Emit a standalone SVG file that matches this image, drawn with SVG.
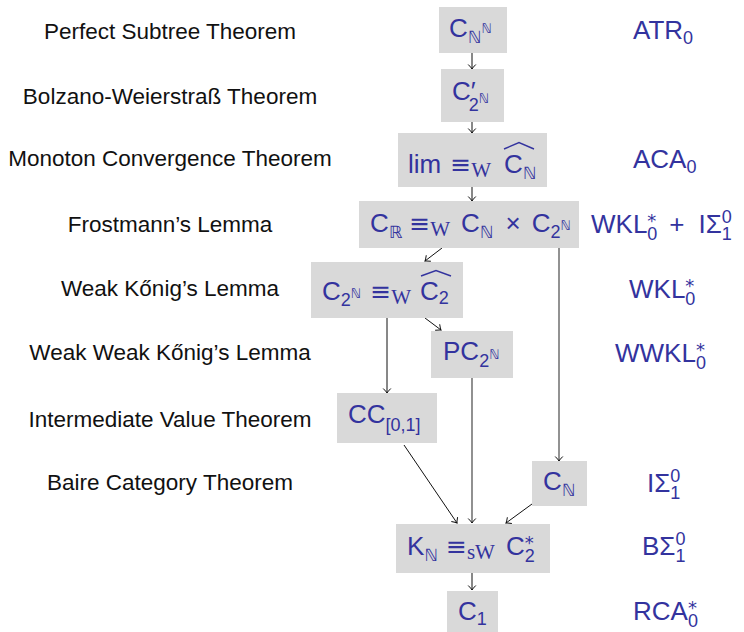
<svg xmlns="http://www.w3.org/2000/svg" width="744" height="632" viewBox="0 0 744 632">
<style>
.lbl{font-family:"Liberation Sans","DejaVu Sans",sans-serif;font-size:22.5px;fill:#111;text-anchor:middle}
.m{font-family:"Liberation Sans","DejaVu Sans",sans-serif;font-size:26px;fill:#33339E}
.bb{font-family:"DejaVu Sans",sans-serif;font-size:17px}
.bbs{font-family:"DejaVu Sans",sans-serif;font-size:13px}
.sub{font-size:18px}
.st{font-family:"DejaVu Sans",sans-serif;font-size:18px}
.ser{font-family:"Liberation Serif","DejaVu Serif",serif;font-size:21px}
.eq{font-family:"DejaVu Sans",sans-serif;font-size:25px}
.box{fill:#d9d9d9}
.c{stroke:#111;stroke-width:1;fill:none}
.g{stroke:#777;stroke-width:1.6;fill:none}
.g2{stroke:#555;stroke-width:1.3;fill:none}
.hat{stroke:#33339E;stroke-width:1.4;fill:none}
</style>
<defs>
<marker id="ah" viewBox="-6 -5 8 10" refX="0" refY="0" markerWidth="8" markerHeight="10" markerUnits="userSpaceOnUse" orient="auto">
<path d="M-4.5,-3.8 Q-1.5,-0.8 0,0 Q-1.5,0.8 -4.5,3.8" stroke="#111" stroke-width="1" fill="none"/>
</marker>
</defs>

<g id="labels">
<text class="lbl" x="170" y="39">Perfect Subtree Theorem</text>
<text class="lbl" x="170" y="104">Bolzano-Weierstraß Theorem</text>
<text class="lbl" x="170" y="166">Monoton Convergence Theorem</text>
<text class="lbl" x="170" y="232">Frostmann’s Lemma</text>
<text class="lbl" x="170" y="296">Weak Kőnig’s Lemma</text>
<text class="lbl" x="170" y="360">Weak Weak Kőnig’s Lemma</text>
<text class="lbl" x="170" y="427">Intermediate Value Theorem</text>
<text class="lbl" x="170" y="490">Baire Category Theorem</text>
</g>

<g id="connectors">
<line class="c" x1="472" y1="53" x2="472" y2="69" marker-end="url(#ah)"/>
<line class="c" x1="472" y1="122" x2="472" y2="133" marker-end="url(#ah)"/>
<line class="c" x1="472" y1="187" x2="472" y2="201" marker-end="url(#ah)"/>
<line class="c" x1="442" y1="248" x2="425" y2="261" marker-end="url(#ah)"/>
<line class="c" x1="425" y1="318" x2="441" y2="330" marker-end="url(#ah)"/>
<line class="c" x1="387" y1="318" x2="387" y2="393" marker-end="url(#ah)"/>
<line class="g" x1="559" y1="248" x2="559" y2="461" marker-end="url(#ah)"/>
<line class="g2" x1="472" y1="378" x2="472" y2="523" marker-end="url(#ah)"/>
<line class="c" x1="404" y1="445" x2="457" y2="523" marker-end="url(#ah)"/>
<line class="c" x1="532" y1="504" x2="506" y2="523" marker-end="url(#ah)"/>
<line class="c" x1="472" y1="573" x2="472" y2="590" marker-end="url(#ah)"/>
</g>

<g id="n1">
<rect class="box" x="439" y="7" width="68" height="46"/>
<text class="m" x="449" y="37">C<tspan class="bb" dy="6">ℕ</tspan><tspan class="bbs" dy="-10">ℕ</tspan></text>
</g>
<g id="n2">
<rect class="box" x="441" y="69" width="63" height="53"/>
<text class="m" x="452" y="100">C<tspan>′</tspan><tspan class="sub" dx="-7" dy="11">2</tspan><tspan class="bbs" dy="-8">ℕ</tspan></text>
</g>
<g id="n3">
<rect class="box" x="398" y="133" width="149" height="54"/>
<text class="m" x="408" y="173">lim<tspan class="eq" dx="9">≡</tspan><tspan class="ser" dy="4">W</tspan><tspan dx="13" dy="-4">C</tspan><tspan class="bb" dy="6">ℕ</tspan></text>
<path class="hat" d="M504,149 L519,142.5 L534,149"/>
</g>
<g id="n4">
<rect class="box" x="359" y="201" width="220" height="47"/>
<text class="m" x="370" y="232">C<tspan class="bb" dy="6">ℝ</tspan><tspan class="eq" dx="7" dy="-6">≡</tspan><tspan class="ser" dy="4">W</tspan><tspan dx="11" dy="-4">C</tspan><tspan class="bb" dy="6">ℕ</tspan><tspan dx="12" dy="-6">×</tspan><tspan dx="11">C</tspan><tspan class="sub" dy="6">2</tspan><tspan class="bbs" dy="-8">ℕ</tspan></text>
</g>
<g id="n5">
<rect class="box" x="311" y="262" width="152" height="56"/>
<text class="m" x="322" y="300">C<tspan class="sub" dy="6">2</tspan><tspan class="bbs" dy="-8">ℕ</tspan><tspan class="eq" dx="9" dy="2">≡</tspan><tspan class="ser" dy="4">W</tspan><tspan dx="9" dy="-4">C</tspan><tspan class="sub" dy="4">2</tspan></text>
<path class="hat" d="M421,276 L436,270.5 L451,276"/>
</g>
<g id="n6">
<rect class="box" x="431" y="331" width="82" height="47"/>
<text class="m" x="443" y="360">PC<tspan class="sub" dy="7">2</tspan><tspan class="bbs" dy="-8">ℕ</tspan></text>
</g>
<g id="n7">
<rect class="box" x="337" y="393" width="100" height="50"/>
<text class="m" x="348" y="423">CC<tspan class="sub" dy="8">[0,1]</tspan></text>
</g>
<g id="n8">
<rect class="box" x="532" y="461" width="55" height="45"/>
<text class="m" x="543" y="490">C<tspan class="bb" dy="6">ℕ</tspan></text>
</g>
<g id="n9">
<rect class="box" x="396" y="524" width="154" height="49"/>
<text class="m" x="407" y="555">K<tspan class="bb" dy="6">ℕ</tspan><tspan class="eq" dx="8" dy="-6">≡</tspan><tspan class="ser" dy="4">sW</tspan><tspan dx="11" dy="-4">C</tspan><tspan class="st" dy="-6">*</tspan><tspan class="sub" dx="-9" dy="13">2</tspan></text>
</g>
<g id="n10">
<rect class="box" x="447" y="591" width="51" height="41"/>
<text class="m" x="458" y="620">C<tspan class="sub" dy="5">1</tspan></text>
</g>

<g id="systems">
<text class="m" x="633" y="39">ATR<tspan class="sub" dy="5">0</tspan></text>
<text class="m" x="633" y="168">ACA<tspan class="sub" dy="5">0</tspan></text>
<text class="m" x="591" y="233">WKL<tspan class="st" dy="-6">*</tspan><tspan class="sub" dx="-9" dy="13">0</tspan><tspan dx="12" dy="-7">+</tspan><tspan dx="14">IΣ</tspan><tspan class="sub" dy="-10">0</tspan><tspan class="sub" dx="-10" dy="17">1</tspan></text>
<text class="m" x="629" y="298">WKL<tspan class="st" dy="-6">*</tspan><tspan class="sub" dx="-9" dy="13">0</tspan></text>
<text class="m" x="615" y="362">WWKL<tspan class="st" dy="-6">*</tspan><tspan class="sub" dx="-9" dy="13">0</tspan></text>
<text class="m" x="647" y="492">IΣ<tspan class="sub" dy="-10">0</tspan><tspan class="sub" dx="-10" dy="17">1</tspan></text>
<text class="m" x="642" y="555">BΣ<tspan class="sub" dy="-10">0</tspan><tspan class="sub" dx="-10" dy="17">1</tspan></text>
<text class="m" x="633" y="620">RCA<tspan class="st" dy="-6">*</tspan><tspan class="sub" dx="-9" dy="13">0</tspan></text>
</g>
</svg>
